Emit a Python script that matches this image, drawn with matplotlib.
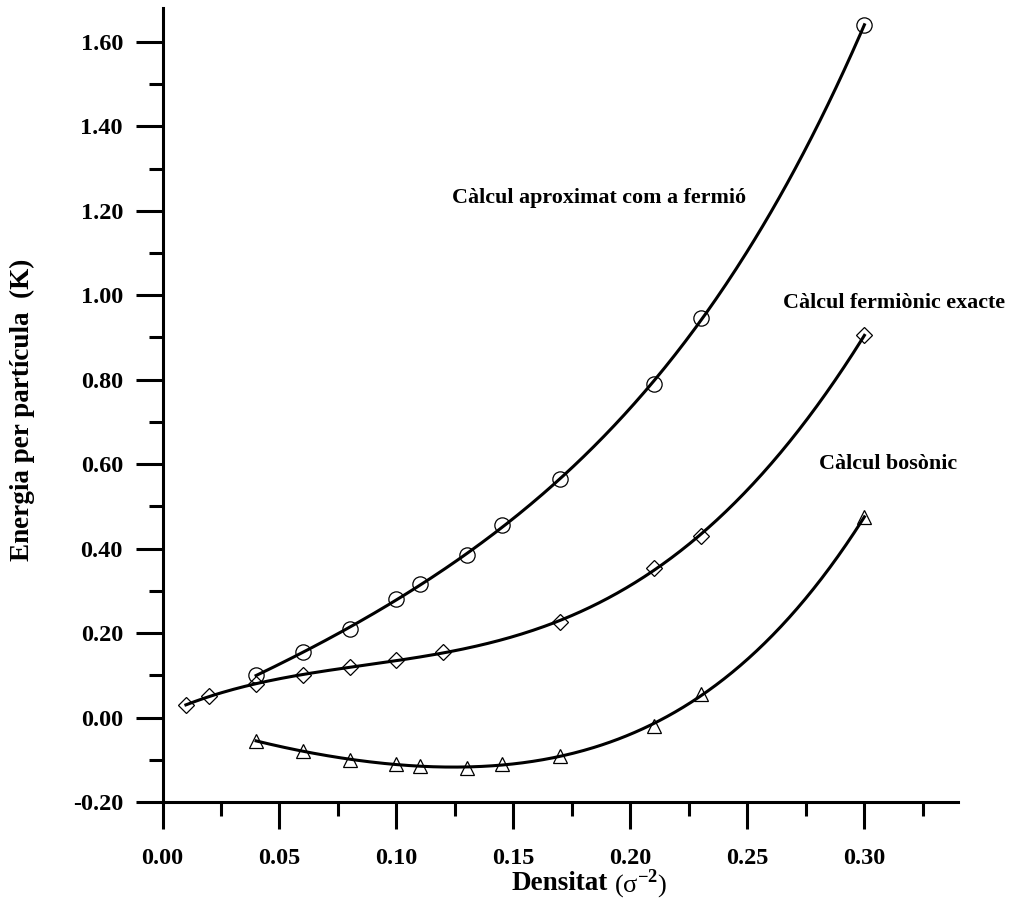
import numpy as np
import matplotlib.pyplot as plt
from matplotlib.ticker import MultipleLocator

plt.rcParams['font.family'] = ['Liberation Serif', 'DejaVu Serif']
plt.rcParams['mathtext.fontset'] = 'custom'
plt.rcParams['mathtext.rm'] = 'Liberation Serif'
plt.rcParams['mathtext.bf'] = 'Liberation Serif:bold'

# densitat (sigma^-2) and energia per particula (K)
x_ferm = [0.04, 0.06, 0.08, 0.10, 0.11, 0.13, 0.145, 0.17, 0.21, 0.23, 0.30]
e_ferm = [0.10, 0.155, 0.21, 0.28, 0.315, 0.385, 0.455, 0.565, 0.79, 0.945, 1.64]

x_exac = [0.01, 0.02, 0.04, 0.06, 0.08, 0.10, 0.12, 0.17, 0.21, 0.23, 0.30]
e_exac = [0.03, 0.05, 0.08, 0.10, 0.12, 0.135, 0.155, 0.225, 0.355, 0.43, 0.905]

x_bos = [0.04, 0.06, 0.08, 0.10, 0.11, 0.13, 0.145, 0.17, 0.21, 0.23, 0.30]
e_bos = [-0.055, -0.08, -0.10, -0.11, -0.115, -0.12, -0.11, -0.09, -0.02, 0.055, 0.475]

xticks = [0.00, 0.05, 0.10, 0.15, 0.20, 0.25, 0.30]
yticks = [-0.20, 0.00, 0.20, 0.40, 0.60, 0.80, 1.00, 1.20, 1.40, 1.60]

fig = plt.figure(figsize=(10.1, 9.02), dpi=100)
ax = fig.add_axes([0.1609, 0.1109, 0.7876, 0.8802])


def curve(xs, ys, marker, ms):
    xs = np.array(xs)
    ys = np.array(ys)
    c = np.polyfit(xs, ys, 4)
    xx = np.linspace(xs.min(), xs.max(), 300)
    ax.plot(xx, np.polyval(c, xx), color='black', lw=2.2, zorder=2)
    ax.plot(xs, ys, linestyle='none', marker=marker, ms=ms, mfc='none',
            mec='black', mew=0.9, zorder=3)


curve(x_ferm, e_ferm, 'o', 11)
curve(x_exac, e_exac, 'D', 8.5)
curve(x_bos, e_bos, '^', 10)

ax.set_xlim(0, 0.34)
ax.set_ylim(-0.2, 1.68)
for s in ['top', 'right']:
    ax.spines[s].set_visible(False)
for s in ['left', 'bottom']:
    ax.spines[s].set_linewidth(2.2)

ax.set_xticks(xticks)
ax.set_xticklabels(['%.2f' % v for v in xticks])
ax.set_yticks(yticks)
ax.set_yticklabels(['%.2f' % v for v in yticks])
ax.xaxis.set_minor_locator(MultipleLocator(0.025))
ax.yaxis.set_minor_locator(MultipleLocator(0.1))
ax.tick_params(which='major', direction='out', length=19.5, width=2.2,
               labelsize=17.5)
ax.tick_params(axis='x', which='major', pad=14)
ax.tick_params(axis='y', which='major', pad=9)
ax.tick_params(which='minor', direction='out', length=10, width=2.2)
for lb in ax.get_xticklabels() + ax.get_yticklabels():
    lb.set_fontweight('bold')

ax.text(0.1239, 1.229, 'Càlcul aproximat com a fermió', fontsize=15.8,
        fontweight='bold', va='center', ha='left')
ax.text(0.2653, 0.981, 'Càlcul fermiònic exacte', fontsize=15.8,
        fontweight='bold', va='center', ha='left')
ax.text(0.2807, 0.600, 'Càlcul bosònic', fontsize=15.8,
        fontweight='bold', va='center', ha='left')

fig.text(560 / 1010, 1 - 884 / 902, 'Densitat', fontsize=19.5,
         fontweight='bold', ha='center', va='center')
fig.text(614 / 1010, 1 - 884 / 902, r'(σ$^{\mathbf{-2}}$)', fontsize=19,
         ha='left', va='center')
fig.text(22 / 1010, 1 - 410 / 902, 'Energia per partícula  (K)', fontsize=19.5,
         fontweight='bold', ha='center', va='center', rotation=90)

fig.savefig('out.png', dpi=100)
